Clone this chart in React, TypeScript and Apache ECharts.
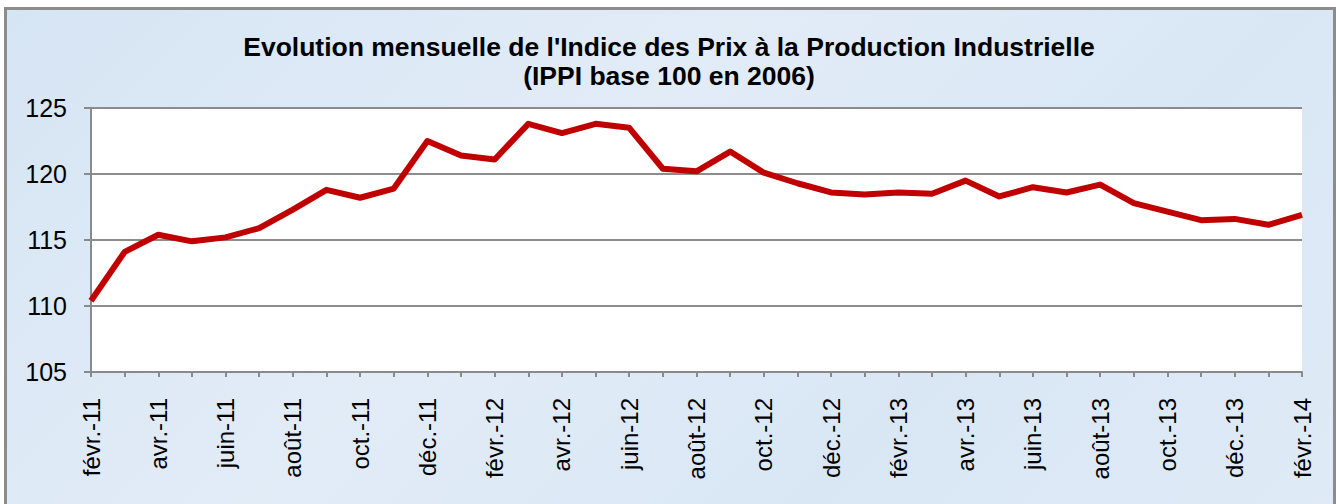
import React, { useEffect, useRef } from "react";
import * as echarts from "echarts";

const titleLine1 = "Evolution mensuelle de l'Indice des Prix à la Production Industrielle";
const titleLine2 = "(IPPI base 100 en 2006)";

const months = [
  "févr.-11", "mars-11", "avr.-11", "mai-11", "juin-11", "juil.-11", "août-11", "sept.-11", "oct.-11", "nov.-11", "déc.-11",
  "janv.-12", "févr.-12", "mars-12", "avr.-12", "mai-12", "juin-12", "juil.-12", "août-12", "sept.-12", "oct.-12", "nov.-12", "déc.-12",
  "janv.-13", "févr.-13", "mars-13", "avr.-13", "mai-13", "juin-13", "juil.-13", "août-13", "sept.-13", "oct.-13", "nov.-13", "déc.-13",
  "janv.-14", "févr.-14",
];

const ippi = [
  110.4, 114.1, 115.4, 114.9, 115.2, 115.9, 117.3, 118.8, 118.2, 118.9, 122.5,
  121.4, 121.1, 123.8, 123.1, 123.8, 123.5, 120.4, 120.2, 121.7, 120.1, 119.3, 118.6,
  118.45, 118.6, 118.5, 119.5, 118.3, 119.0, 118.6, 119.2, 117.8, 117.15, 116.5, 116.6,
  116.15, 116.9,
];

const yMin = 105;
const yMax = 125;
const yStep = 5;

const FONT = "'Liberation Sans', Arial, Helvetica, sans-serif";

export default function App() {
  const ref = useRef<HTMLDivElement>(null);

  useEffect(() => {
    if (!ref.current) return;
    const chart = echarts.init(ref.current, undefined, { renderer: "svg" });
    chart.setOption({
      animation: false,
      backgroundColor: "transparent",
      title: {
        text: titleLine1 + "\n" + titleLine2,
        left: 669,
        textAlign: "center",
        top: 32,
        padding: 0,
        textStyle: {
          fontFamily: FONT,
          fontSize: 26.5,
          fontWeight: "bold",
          color: "#000",
          lineHeight: 29,
        },
      },
      grid: {
        left: 91,
        top: 108,
        width: 1211,
        height: 264,
        show: true,
        backgroundColor: "#ffffff",
        borderWidth: 0,
      },
      xAxis: {
        type: "category",
        data: months,
        boundaryGap: false,
        axisLine: { show: true, lineStyle: { color: "#8a8a8a", width: 2 } },
        axisTick: { show: true, interval: 0, length: 5, lineStyle: { color: "#8a8a8a", width: 2 } },
        axisLabel: {
          interval: 1,
          rotate: 90,
          margin: 26,
          fontFamily: FONT,
          fontSize: 24,
          color: "#000",
        },
        splitLine: { show: false },
      },
      yAxis: {
        type: "value",
        min: yMin,
        max: yMax,
        interval: yStep,
        axisLine: { show: true, lineStyle: { color: "#8a8a8a", width: 2 } },
        axisTick: { show: true, length: 7, lineStyle: { color: "#8a8a8a", width: 2 } },
        axisLabel: {
          margin: 24,
          fontFamily: FONT,
          fontSize: 25,
          color: "#000",
        },
        splitLine: { show: true, lineStyle: { color: "#8c8c8c", width: 2 } },
      },
      series: [
        {
          type: "line",
          data: ippi,
          symbol: "none",
          lineStyle: { color: "#c00000", width: 6, join: "round" },
          itemStyle: { color: "#c00000" },
        },
      ],
    });
    return () => chart.dispose();
  }, []);

  return (
    <div style={{ position: "absolute", left: 0, top: 0, width: 1336, height: 504, background: "#ffffff", overflow: "hidden" }}>
      <div
        style={{
          position: "absolute",
          left: 4,
          top: 7,
          width: 1326,
          height: 510,
          background: "linear-gradient(135deg, #d6e5f4 0%, #e2ecf7 40%, #d9e7f5 70%, #dfeaf6 100%)",
          borderLeft: "3px solid #8c8c8c",
          borderTop: "3px solid #8c8c8c",
          borderRight: "3px solid #8c8c8c",
        }}
      />
      <div ref={ref} style={{ position: "absolute", left: 0, top: 0, width: 1336, height: 504 }} />
    </div>
  );
}
